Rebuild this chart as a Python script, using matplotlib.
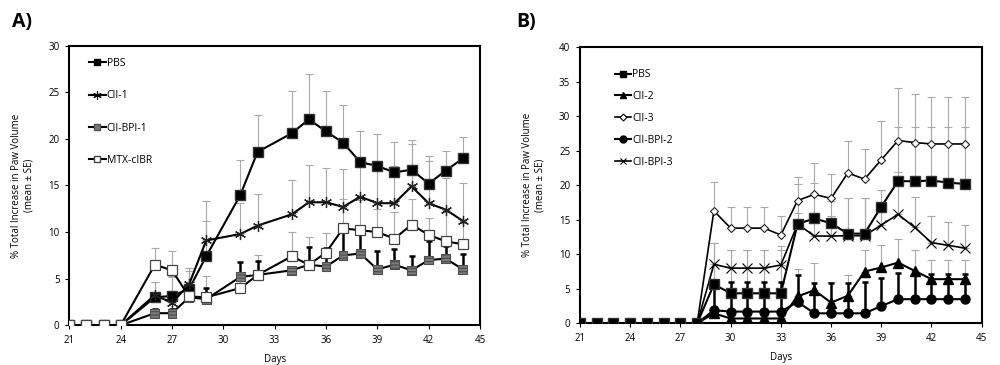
import numpy as np
import matplotlib
matplotlib.use("Agg")
import matplotlib.pyplot as plt
from matplotlib.lines import Line2D

plt.rcParams['font.family'] = ['Open Sans', 'DejaVu Sans']
plt.rcParams['hatch.color'] = 'white'
plt.rcParams['hatch.linewidth'] = 0.9

# ---- panel A data ----
days_a = [21, 22, 23, 24, 26, 27, 28, 29, 31, 32, 34, 35, 36, 37, 38, 39, 40, 41, 42, 43, 44]
pbs_a = [0, 0, 0, 0, 3.0, 3.15, 3.9, 7.4, 14.0, 18.6, 20.6, 22.1, 20.8, 19.6, 17.5, 17.1, 16.4, 16.7, 15.2, 16.6, 17.9]
pbs_a_top = [0, 0, 0, 0, 4.6, 5.2, 5.8, 11.2, 17.7, 22.6, 25.1, 27.0, 25.1, 23.6, 20.9, 20.5, 19.7, 19.9, 18.2, 18.7, 20.2]
cii1 = [0, 0, 0, 0, 3.25, 2.4, 4.4, 9.1, 9.8, 10.7, 11.9, 13.2, 13.2, 12.7, 13.8, 13.1, 13.1, 14.9, 13.1, 12.4, 11.2]
cii1_top = [0, 0, 0, 0, 4.6, 5.3, 6.2, 13.3, 13.1, 14.1, 15.6, 17.2, 16.9, 16.8, 17.5, 17.0, 17.1, 19.5, 17.6, 15.8, 15.3]
bpi1 = [0, 0, 0, 0, 1.3, 1.3, 3.0, 2.8, 5.2, 5.4, 5.9, 6.5, 6.3, 7.5, 7.7, 6.0, 6.5, 5.9, 7.0, 7.15, 6.0]
bpi1_top = [0, 0, 0, 0, 1.8, 1.8, 3.2, 4.0, 6.8, 6.9, 6.3, 8.4, 8.3, 10.0, 9.9, 8.0, 8.2, 7.4, 9.05, 8.5, 7.65]
mtx = [0, 0, 0, 0, 6.5, 5.9, 3.1, 3.0, 4.0, 5.4, 7.4, 6.5, 7.8, 10.4, 10.2, 10.0, 9.3, 10.8, 9.7, 9.0, 8.7]
mtx_top = [0, 0, 0, 0, 8.3, 8.0, 6.2, 5.3, 4.8, 7.5, 10.0, 9.5, 9.9, 13.6, 13.4, 12.5, 12.2, 13.6, 11.5, 12.2, 11.0]

# ---- panel B data ----
days_b = [21, 22, 23, 24, 25, 26, 27, 28, 29, 30, 31, 32, 33, 34, 35, 36, 37, 38, 39, 40, 41, 42, 43, 44]
pbs_b = [0, 0, 0, 0, 0, 0, 0, 0, 5.65, 4.35, 4.35, 4.35, 4.35, 14.4, 15.2, 14.5, 13.0, 13.0, 16.9, 20.6, 20.6, 20.7, 20.4, 20.2]
pbs_b_top = [0, 0, 0, 0, 0, 0, 0, 0, 11.7, 10.7, 10.7, 10.7, 10.7, 20.2, 20.3, 17.8, 18.2, 18.2, 19.3, 28.5, 28.5, 28.5, 28.5, 28.5]
cii2 = [0, 0, 0, 0, 0, 0, 0, 0, 1.45, 0.7, 0.7, 0.7, 0.7, 3.9, 4.8, 3.0, 4.0, 7.5, 8.1, 8.8, 7.6, 6.4, 6.4, 6.4]
cii2_top = [0, 0, 0, 0, 0, 0, 0, 0, 1.8, 1.0, 1.0, 1.0, 1.0, 7.9, 8.8, 6.0, 7.0, 10.6, 11.4, 12.2, 10.6, 9.2, 9.2, 9.2]
cii3 = [0, 0, 0, 0, 0, 0, 0, 0, 16.3, 13.8, 13.8, 13.8, 12.8, 17.8, 18.7, 18.1, 21.8, 20.9, 23.7, 26.5, 26.2, 26.0, 26.0, 26.0]
cii3_top = [0, 0, 0, 0, 0, 0, 0, 0, 20.5, 16.9, 16.9, 16.9, 15.6, 21.2, 23.2, 21.7, 26.5, 25.2, 29.4, 34.1, 33.3, 32.8, 32.8, 32.8]
bpi2 = [0, 0, 0, 0, 0, 0, 0, 0, 1.9, 1.7, 1.7, 1.7, 1.7, 3.1, 1.45, 1.45, 1.45, 1.45, 2.5, 3.5, 3.5, 3.5, 3.5, 3.5]
bpi2_top = [0, 0, 0, 0, 0, 0, 0, 0, 5.5, 6.0, 6.0, 6.0, 6.0, 7.0, 5.9, 5.9, 5.9, 6.0, 6.5, 7.3, 7.3, 7.2, 7.2, 7.2]
bpi3 = [0, 0, 0, 0, 0, 0, 0, 0, 8.55, 8.0, 8.0, 8.0, 8.45, 14.4, 12.65, 12.65, 12.7, 12.7, 14.25, 15.8, 13.9, 11.7, 11.3, 10.9]
bpi3_top = [0, 0, 0, 0, 0, 0, 0, 0, 11.7, 10.7, 10.7, 10.7, 11.2, 16.0, 15.5, 15.5, 18.2, 18.2, 19.3, 22.0, 18.3, 15.5, 14.7, 14.2]

GREY = '#a8a8a8'
YLAB = '% Total Increase in Paw Volume\n(mean \u00b1 SE)'


def err(ax, x, y, top, color=GREY, lw=0.8, cap=3):
    y = np.asarray(y, float)
    up = np.asarray(top, float) - y
    ax.errorbar(x, y, yerr=[np.zeros_like(up), up], fmt='none', ecolor=color,
                elinewidth=lw, capsize=cap, capthick=lw, zorder=1)


def style(ax, ymax, ystep):
    ax.set_xlim(21, 45)
    ax.set_xticks(range(21, 46, 3))
    ax.set_ylim(0, ymax)
    ax.set_yticks(range(0, ymax + 1, ystep))
    for s in ax.spines.values():
        s.set_linewidth(1.5)
    ax.tick_params(labelsize=7, length=3, width=0.8, pad=4)
    ax.set_xlabel('Days', fontsize=7, labelpad=6)
    ax.set_ylabel(YLAB, fontsize=7, labelpad=10)


fig = plt.figure(figsize=(10, 3.65), dpi=100)
ax1 = fig.add_axes([0.0693, 0.1088, 0.4107, 0.766])
ax2 = fig.add_axes([0.580, 0.1142, 0.4017, 0.756])

# ---- A ----
err(ax1, days_a, pbs_a, pbs_a_top)
err(ax1, days_a, cii1, cii1_top)
err(ax1, days_a, mtx, mtx_top)
err(ax1, days_a, bpi1, bpi1_top, color='black', lw=1.8, cap=2)

ax1.plot(days_a, pbs_a, color='black', lw=1.5, marker='s', ms=7, mfc='black', mec='#333333', zorder=3)
ax1.plot(days_a, cii1, color='black', lw=1.5, marker=(6, 2, 0), ms=8, mec='#222222', mew=0.9, zorder=3)
ax1.plot(days_a, bpi1, color='black', lw=1.5, zorder=3)
ax1.scatter(days_a, bpi1, marker='s', s=40, facecolor='#7a7a7a', edgecolor='#505050',
            hatch='-----', linewidth=0.8, zorder=4)
ax1.plot(days_a, mtx, color='black', lw=1.5, marker='s', ms=7.5, mfc='white', mec='#444444', mew=0.9, zorder=5)

h_a = [
    Line2D([], [], color='black', lw=1.5, marker='s', ms=5, mfc='black'),
    Line2D([], [], color='black', lw=1.5, marker=(6, 2, 0), ms=6, mew=0.8),
    Line2D([], [], color='black', lw=1.5, marker='s', ms=5, mfc='#7a7a7a', mec='#505050'),
    Line2D([], [], color='black', lw=1.5, marker='s', ms=5, mfc='white', mec='#444444'),
]
ax1.legend(h_a, ['PBS', 'CII-1', 'CII-BPI-1', 'MTX-cIBR'], loc='upper left',
           bbox_to_anchor=(0.025, 0.99), frameon=False, fontsize=7.5,
           handlelength=1.6, handletextpad=0.1, labelspacing=2.05)
style(ax1, 30, 5)

# ---- B ----
err(ax2, days_b, cii3, cii3_top)
err(ax2, days_b, pbs_b, pbs_b_top)
err(ax2, days_b, bpi3, bpi3_top)
err(ax2, days_b, cii2, cii2_top)
err(ax2, days_b, bpi2, bpi2_top, color='black', lw=1.8, cap=2)

ax2.plot(days_b, cii2, color='black', lw=1.5, marker='^', ms=6.5, mfc='black', zorder=3)
ax2.plot(days_b, cii3, color='black', lw=1.2, marker='D', ms=4.5, mfc='white', mec='#222222', mew=0.8, zorder=3)
ax2.plot(days_b, bpi2, color='black', lw=1.5, marker='o', ms=6.5, mfc='black', zorder=3)
ax2.plot(days_b, bpi3, color='black', lw=1.2, marker='x', ms=6.5, mew=0.8, zorder=3)
ax2.plot(days_b, pbs_b, color='black', lw=1.5, marker='s', ms=7, mfc='black', mec='#333333', zorder=5)

h_b = [
    Line2D([], [], color='black', lw=1.5, marker='s', ms=5, mfc='black'),
    Line2D([], [], color='black', lw=1.5, marker='^', ms=5, mfc='black'),
    Line2D([], [], color='black', lw=1.2, marker='D', ms=3.5, mfc='white', mew=0.8),
    Line2D([], [], color='black', lw=1.5, marker='o', ms=5, mfc='black'),
    Line2D([], [], color='black', lw=1.2, marker='x', ms=5, mew=0.8),
]
ax2.legend(h_b, ['PBS', 'CII-2', 'CII-3', 'CII-BPI-2', 'CII-BPI-3'], loc='upper left',
           bbox_to_anchor=(0.063, 0.955), frameon=False, fontsize=7.5,
           handlelength=1.6, handletextpad=0.1, labelspacing=1.05)
style(ax2, 40, 5)

fig.text(0.012, 0.94, 'A)', fontsize=14, fontweight='bold', va='center')
fig.text(0.516, 0.94, 'B)', fontsize=14, fontweight='bold', va='center')

fig.savefig('out.png', dpi=100)
